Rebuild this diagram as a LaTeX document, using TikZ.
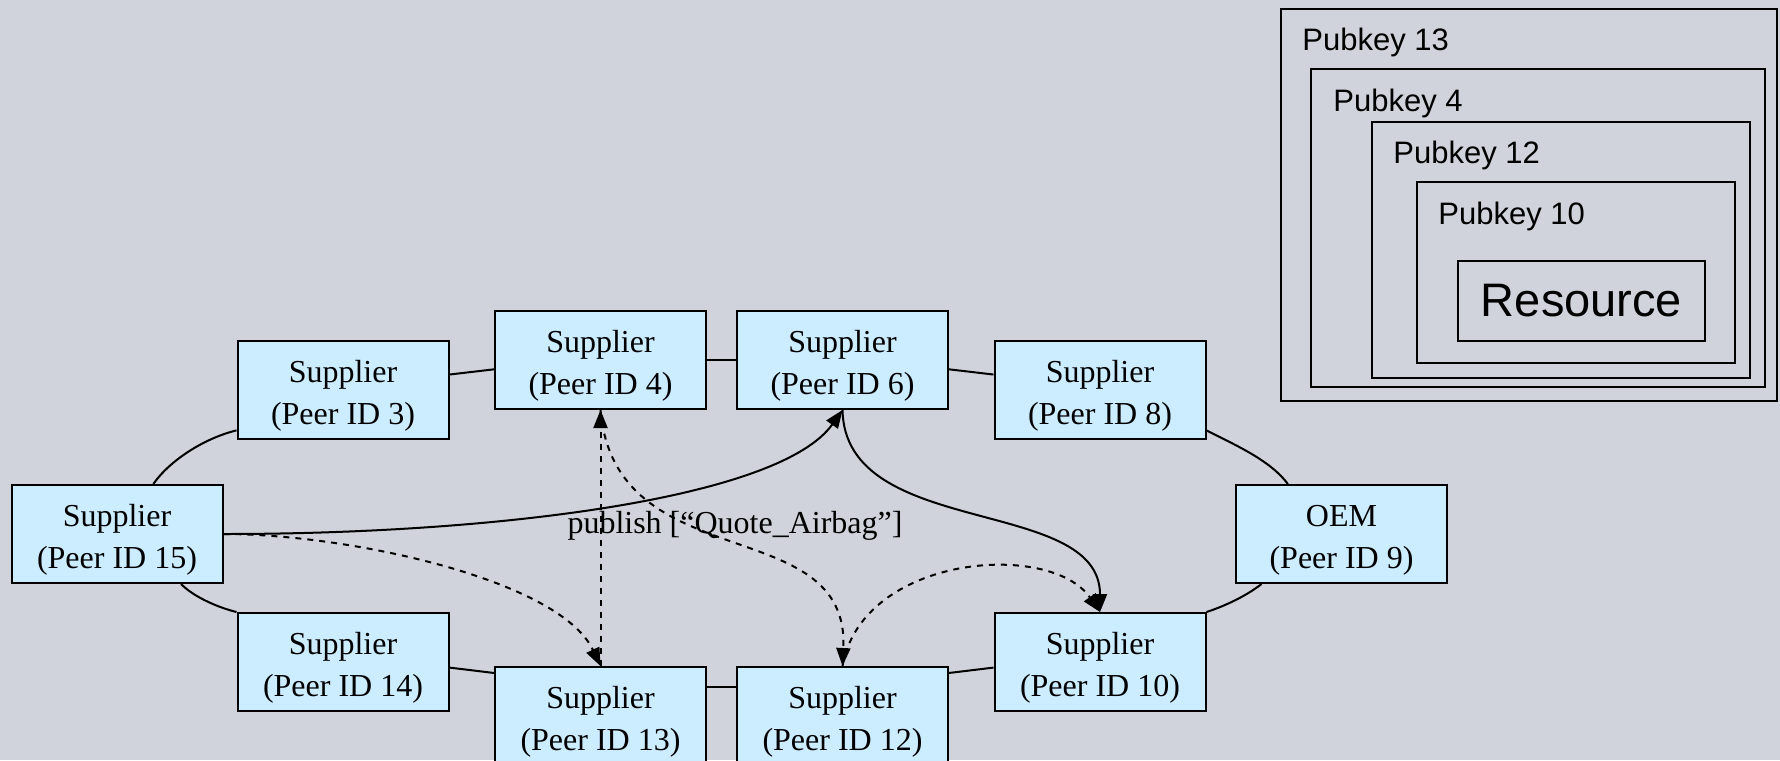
\documentclass[tikz,border=0pt]{standalone}
\usepackage{fontspec}
\setmainfont{Liberation Serif}
\newfontfamily\arialfont{Liberation Sans}
\usetikzlibrary{arrows.meta}
\definecolor{bgcol}{RGB}{208,211,219}
\definecolor{peerblue}{RGB}{204,236,255}
\tikzset{
    peer/.style={draw, fill=peerblue, line width=1pt, minimum width=105.5pt, minimum height=49pt,
        inner sep=0pt, align=center, text height=38pt, font=\fontsize{16}{21}\selectfont},
    ring/.style={line width=1pt},
    msg/.style={line width=1pt, -{Triangle[length=9pt,width=7pt]}},
    keybox/.style={line width=1pt},
    keylabel/.style={inner sep=0pt, anchor=base west, font=\arialfont\fontsize{15.5}{18}\selectfont}
}
\begin{document}
\begin{tikzpicture}[x=0.5pt,y=-0.5pt]
    \useasboundingbox (0,0) rectangle (1780,760);
    \fill[bgcol] (0,0) rectangle (1780,760);
    \node[peer] (p15) at (117,534) {Supplier\\(Peer ID 15)};
    \node[peer] (p3) at (343,389.5) {Supplier\\(Peer ID 3)};
    \node[peer] (p4) at (600.5,360) {Supplier\\(Peer ID 4)};
    \node[peer] (p6) at (842.5,360) {Supplier\\(Peer ID 6)};
    \node[peer] (p8) at (1100,389.5) {Supplier\\(Peer ID 8)};
    \node[peer] (oem) at (1341.5,534) {OEM\\(Peer ID 9)};
    \node[peer] (p10) at (1100,662) {Supplier\\(Peer ID 10)};
    \node[peer] (p12) at (842.5,716) {Supplier\\(Peer ID 12)};
    \node[peer] (p13) at (600.5,716) {Supplier\\(Peer ID 13)};
    \node[peer] (p14) at (343,662) {Supplier\\(Peer ID 14)};
    \draw[ring] (p15.54) .. controls (170,460) and (205,438) .. (p3.201);
    \draw[ring] (p3.8) -- (p4.185);
    \draw[ring] (p4.east) -- (p6.west);
    \draw[ring] (p6.355) -- (p8.172);
    \draw[ring] (p8.339) .. controls (1235,445) and (1270,460) .. (oem.137);
    \draw[ring] (oem.212) .. controls (1245,597) and (1222,607) .. (p10.north east);
    \draw[ring] (p10.183) -- (p12.22);
    \draw[ring] (p12.165) -- (p13.15);
    \draw[ring] (p13.158) -- (p14.357);
    \draw[ring] (p14.north west) .. controls (220,608) and (195,598) .. (p15.322);
    \draw[msg] (p15.east) .. controls (500,534) and (780,498) .. (p6.south);
    \draw[msg] (p6.south) .. controls (845,540) and (1100,495) .. (p10.north);
    \draw[msg,dashed] (p15.east) .. controls (350,534) and (560,580) .. (p13.north);
    \draw[msg,dashed] (p13.north) -- (p4.south);
    \draw[msg,dashed] (p4.south) .. controls (615,580) and (850,510) .. (p12.north);
    \draw[msg,dashed] (p12.north) .. controls (862,555) and (1050,540) .. (p10.north);
    \node[inner sep=0pt, anchor=base, font=\fontsize{16}{21}\selectfont] (publish) at (735,533) {publish [“Quote\_Airbag”]};
    \draw[keybox] (1281,9) rectangle (1777,401);
    \draw[keybox] (1311,69) rectangle (1765,387);
    \draw[keybox] (1372,122) rectangle (1750,378);
    \draw[keybox] (1417,182) rectangle (1735,363);
    \node[keylabel] (key13) at (1302,50) {Pubkey 13};
    \node[keylabel] (key4) at (1333,111) {Pubkey 4};
    \node[keylabel] (key12) at (1393,163) {Pubkey 12};
    \node[keylabel] (key10) at (1438,224) {Pubkey 10};
    \node[draw, line width=1pt, minimum width=123.5pt, minimum height=40pt, inner sep=0pt,
        font=\arialfont\fontsize{23.5}{28}\selectfont] (resource) at (1581.5,301) {Resource};
\end{tikzpicture}
\end{document}
